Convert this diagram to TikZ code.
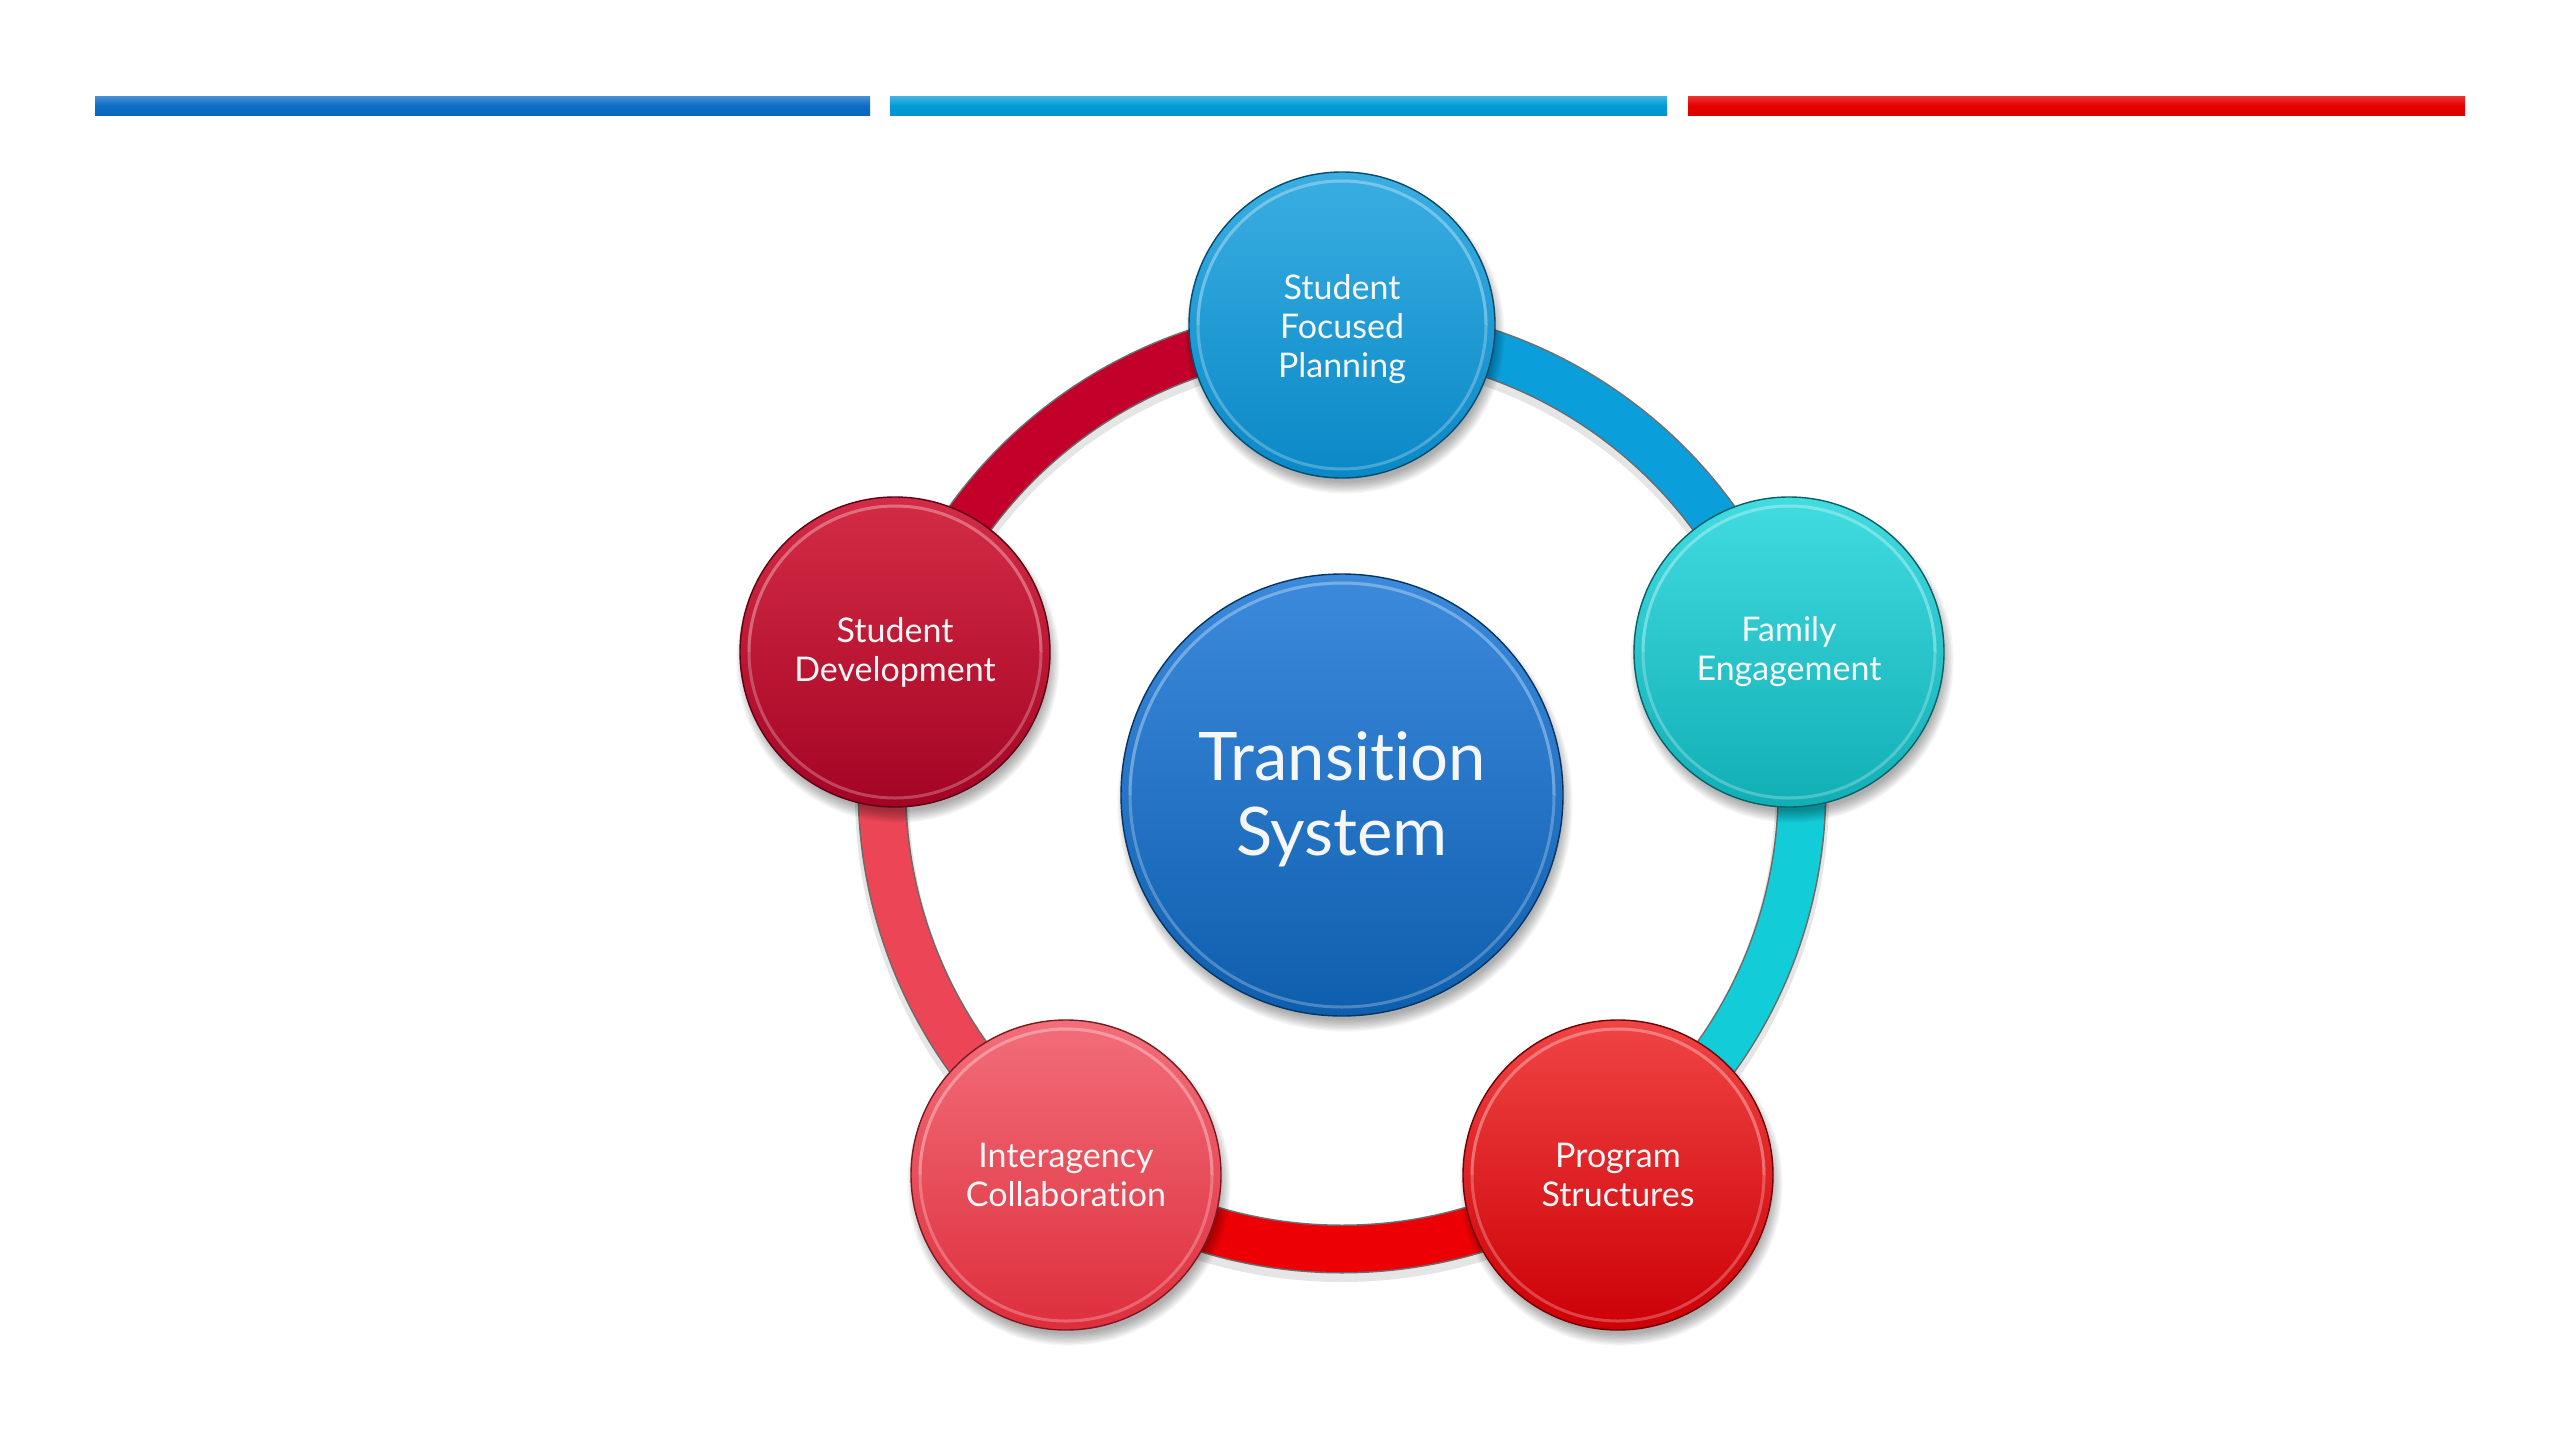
\documentclass[tikz,border=0pt]{standalone}
\usepackage{fontspec}
\setmainfont{Lato}[Ligatures={NoCommon,NoContextual}]
\usetikzlibrary{calc}
\definecolor{barA}{HTML}{0D6CC6}
\definecolor{barB}{HTML}{039BD8}
\definecolor{barC}{HTML}{E60000}
\definecolor{arcBlue}{HTML}{0A9EDA}
\definecolor{arcCyan}{HTML}{12CCD8}
\definecolor{arcRed}{HTML}{EC0006}
\definecolor{arcPink}{HTML}{EC4656}
\definecolor{arcDark}{HTML}{C2002A}
\definecolor{txt}{HTML}{F6F6F6}
\definecolor{tTop}{HTML}{3AAEE2}\definecolor{bTop}{HTML}{0A88C6}
\definecolor{tFam}{HTML}{40DCE0}\definecolor{bFam}{HTML}{12AEB6}
\definecolor{tPro}{HTML}{F04444}\definecolor{bPro}{HTML}{CC0006}
\definecolor{tInt}{HTML}{F26E7A}\definecolor{bInt}{HTML}{DE2E3C}
\definecolor{tStu}{HTML}{D42C46}\definecolor{bStu}{HTML}{A40424}
\definecolor{tCen}{HTML}{3C8ADC}\definecolor{bCen}{HTML}{0E5EAE}
\newcommand\mybubble[6]{%
  \foreach \k in {1,...,10}{\fill[black,opacity=0.035] ($(#2)+(3,9)$) circle ({#3+8-1.3*\k});}
  \node[bubble, minimum size={2*#3}, top color=t#4, bottom color=b#4, draw=b#4!55!black,
        label={[lbl,#6]center:{#5}}] (#1) at (#2) {};
  \draw[white, opacity=0.25, line width=3pt] (#1.center) circle ({#3-9});
  \draw[t#4!60!white, opacity=0.40, line width=3pt] ($(#1.center)+(-#3+9,0)$) arc[start angle=180,end angle=360,radius={#3-9}];
}
\begin{document}
\begin{tikzpicture}[x=1pt,y=-1pt,
  bubble/.style={circle, inner sep=0pt, line width=1.4pt},
  lbl/.style={text=txt, align=center, inner sep=0pt},
  small/.style={font=\fontsize{34}{39}\selectfont},
  big/.style={font=\fontsize{67}{75}\selectfont, yshift=-4pt},
  ringarc/.style={line width=46pt},
  ringedge/.style={line width=49pt, draw=black!70, opacity=0.8},
  ringshadow/.style={line width=54pt, draw=black, opacity=0.10}]
\useasboundingbox (0,0) rectangle (2560,1440);
\fill[white] (0,0) rectangle (2560,1440);
% top bars
\shade[top color=barA!75, bottom color=barA!95!black, middle color=barA] (95,96) rectangle (870,115);
\shade[top color=barB!75, bottom color=barB!95!black, middle color=barB] (890,96) rectangle (1667,115);
\shade[top color=barC!80, bottom color=barC!95!black, middle color=barC] (1688,96) rectangle (2465,115);
% ring
\coordinate (ringc) at (1342,789);
\foreach \a/\b/\col in {-90/-18/arcBlue,-18/54/arcCyan,54/126/arcRed,126/198/arcPink,198/270/arcDark}{
  \draw[ringshadow] ($(ringc)+(0,6)+(\a:460)$) arc[start angle=\a,end angle=\b,radius=460];
}
\foreach \a/\b/\col in {-90/-18/arcBlue,-18/54/arcCyan,54/126/arcRed,126/198/arcPink,198/270/arcDark}{
  \draw[ringedge] ($(ringc)+(\a:460)$) arc[start angle=\a,end angle=\b,radius=460];
  \draw[ringarc, draw=\col] ($(ringc)+(\a:460)$) arc[start angle=\a,end angle=\b,radius=460];
}
% positions
\coordinate (pT) at (1342,325);
\coordinate (pF) at (1789,652);
\coordinate (pP) at (1618,1175);
\coordinate (pI) at (1066,1175);
\coordinate (pS) at (895,652);
\coordinate (pC) at (1342,795);
\mybubble{top}{pT}{153}{Top}{Student\\Focused\\Planning}{small,yshift=-4pt}
\mybubble{fam}{pF}{155}{Fam}{Family\\Engagement}{small}
\mybubble{pro}{pP}{155}{Pro}{Program\\Structures}{small}
\mybubble{int}{pI}{155}{Int}{Interagency\\Collaboration}{small}
\mybubble{stu}{pS}{155}{Stu}{Student\\Development}{small}
\mybubble{cen}{pC}{221}{Cen}{Transition\\System}{big}
\end{tikzpicture}
\end{document}
